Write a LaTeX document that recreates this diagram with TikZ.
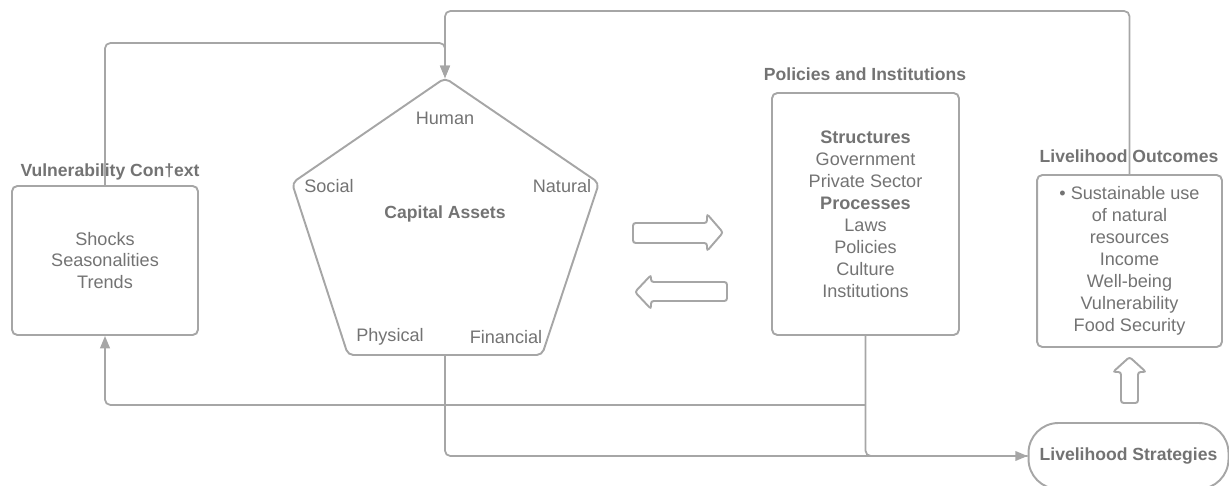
\documentclass[tikz,border=0pt]{standalone}
\usepackage{fontspec}
\setmainfont{Liberation Sans}
\definecolor{linegray}{RGB}{166,166,166}
\definecolor{textgray}{RGB}{115,115,115}
\usetikzlibrary{arrows.meta}
\usetikzlibrary{positioning}
\tikzset{
  box/.style={draw=linegray, line width=1.1pt, rounded corners=3pt, align=center, text=textgray, inner sep=0pt},
  heading/.style={text=textgray, font=\bfseries},
  assetname/.style={text=textgray},
  conn/.style={draw=linegray, line width=1pt, rounded corners=3pt},
  tip/.style={-{Triangle[length=7pt,width=5.5pt]}},
  fatarrow/.style={draw=linegray, line width=1.1pt, rounded corners=1.5pt}
}

\begin{document}
\begin{tikzpicture}[x=0.02cm, y=-0.02cm, font=\fontsize{10.3}{12.5}\selectfont]
  \useasboundingbox (0,0) rectangle (1229,486);

  % boxes
  \node [box, minimum width=3.72cm, minimum height=2.98cm] (vuln) at (105,260.5)
    {Shocks\\Seasonalities\\Trends};
  \node [heading] (vulntitle) at (110,172) {Vulnerability Con†ext};

  \node [box, minimum width=3.74cm, minimum height=4.84cm] (pol) at (865.5,214)
    {\textbf{Structures}\\Government\\Private Sector\\\textbf{Processes}\\Laws\\Policies\\Culture\\Institutions};
  \node [heading] (poltitle) at (865,74) {Policies and Institutions};

  \node [box, minimum width=3.7cm, minimum height=3.44cm] (outc) at (1129.5,261)
    {• Sustainable use\\of natural\\resources\\Income\\Well-being\\Vulnerability\\Food Security};
  \node [heading] (outctitle) at (1129,156) {Livelihood Outcomes};

  \node [box, font=\bfseries, rounded corners=17pt, minimum width=4cm, minimum height=1.32cm] (strat) at (1128.5,456)
    {Livelihood Strategies};

  % capital assets pentagon
  \coordinate (capT) at (445,78);
  \coordinate (capR) at (599,183);
  \coordinate (capBR) at (542,355);
  \coordinate (capBL) at (348,355);
  \coordinate (capL) at (292,183);
  \coordinate (capB) at (445,355);
  \draw [draw=linegray, line width=1.1pt, rounded corners=3pt] (capT) -- (capR) -- (capBR) -- (capBL) -- (capL) -- cycle;
  \node [heading] (capital) at (445,214) {Capital Assets};
  \node [assetname] (human) at (445,118) {Human};
  \node [assetname] (social) at (329,186) {Social};
  \node [assetname] (natural) at (562,186) {Natural};
  \node [assetname] (physical) at (390,337) {Physical};
  \node [assetname] (financial) at (506,337) {Financial};

  % block arrows
  \draw [fatarrow] (633,223) -- (707,223) -- (707,214) -- (723,232.5) -- (707,251) -- (707,243) -- (633,243) -- cycle;
  \draw [fatarrow] (727,282) -- (651,282) -- (651,275) -- (635,292) -- (651,309) -- (651,301) -- (727,301) -- cycle;
  \draw [fatarrow] (1121,403) -- (1121,372) -- (1113,372) -- (1129.5,357) -- (1146,372) -- (1138,372) -- (1138,403) -- cycle;

  % connectors
  \draw [conn, tip] (vuln.north) -- ++(0,-142) -| (capT);
  \draw [conn, tip] (outc.north) -- ++(0,-163) -| (capT);
  \draw [conn] (pol.south) |- (strat.west);
  \draw [conn, tip] (capB) |- (strat.west);
  \draw [conn, tip] (pol.south) ++(0,69) -| (vuln.south);
\end{tikzpicture}
\end{document}
